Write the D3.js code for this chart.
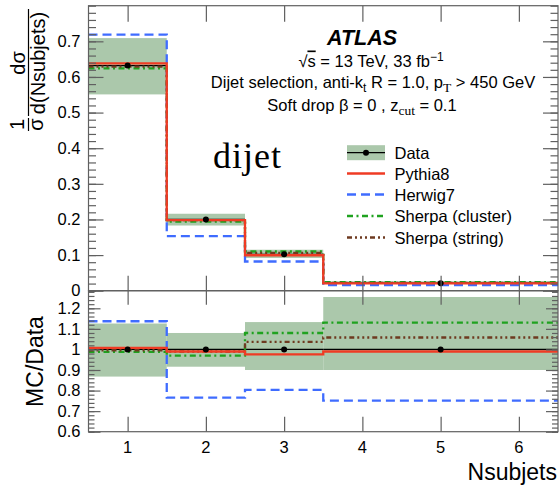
<!DOCTYPE html>
<html><head><meta charset="utf-8">
<script src="https://cdn.jsdelivr.net/npm/d3@7"></script>
<style>
body{margin:0;background:#fff}
svg{display:block}
</style>
</head><body>
<script>
// ---------- data ----------
const binLo = [0.5, 1.5, 2.5, 3.5];
const binHi = [1.5, 2.5, 3.5, 6.5];
const binCenter = [1, 2, 3, 5];

const dataVal   = [0.632, 0.200, 0.102, 0.021];
const dataBandLo = [0.551, 0.183, 0.092, 0.019];
const dataBandHi = [0.709, 0.216, 0.115, 0.0263];
const pythia8   = [0.638, 0.198, 0.0995, 0.0208];
const herwig7   = [0.719, 0.153, 0.082, 0.0158];
const sherpaCl  = [0.624, 0.194, 0.110, 0.0237];
const sherpaSt  = [0.629, 0.198, 0.106, 0.0222];

const ratioData   = [1, 1, 1, 1];
const ratioBandLo = [0.868, 0.916, 0.900, 0.900];
const ratioBandHi = [1.126, 1.080, 1.133, 1.255];
const ratioPythia = [1.008, 0.990, 0.976, 0.990];
const ratioHerwig = [1.137, 0.766, 0.803, 0.751];
const ratioSherpaCl = [0.988, 0.970, 1.080, 1.130];
const ratioSherpaSt = [0.996, 0.990, 1.037, 1.058];

const xTicks = [1, 2, 3, 4, 5, 6];
const yTopTicks = [0, 0.1, 0.2, 0.3, 0.4, 0.5, 0.6, 0.7];
const yTopLabels = ["0", "0.1", "0.2", "0.3", "0.4", "0.5", "0.6", "0.7"];
const yBotTicks = [0.6, 0.7, 0.8, 0.9, 1.0, 1.1, 1.2];
const yBotLabels = ["0.6", "0.7", "0.8", "0.9", "1", "1.1", "1.2"];
const legendLabels = ["Data", "Pythia8", "Herwig7", "Sherpa (cluster)", "Sherpa (string)"];

// ---------- styles ----------
const SANS = '"Liberation Sans",Arial,Helvetica,sans-serif';
const SERIF = '"Liberation Serif","Times New Roman",serif';
const C = {band:"#abc8ab", red:"#ef3b24", blue:"#3f6cff", green:"#1fa21f", brown:"#6e3a20", axis:"#606060"};
const series = [
  {name:"Herwig7", top:herwig7, rat:ratioHerwig, color:C.blue, dash:"9,5"},
  {name:"Sherpa (cluster)", top:sherpaCl, rat:ratioSherpaCl, color:C.green, dash:"6,3.5,2,3.5"},
  {name:"Sherpa (string)", top:sherpaSt, rat:ratioSherpaSt, color:C.brown, dash:"5,3,2,3,2,3,2,3"},
  {name:"Pythia8", top:pythia8, rat:ratioPythia, color:C.red, dash:null}
];

const W = 559, H = 487;
const L = 88.5, R = 558;
const topY0 = 290.7, topY1 = 5.7;
const botY0 = 431.7, botY1 = 290.7;

const svg = d3.select("body").append("svg").attr("width", W).attr("height", H)
  .attr("font-family", SANS);

const x = d3.scaleLinear().domain([0.5, 6.5]).range([L, R]);
const yT = d3.scaleLinear().domain([0, 0.8]).range([topY0, topY1]);
const yB = d3.scaleLinear().domain([0.6, 1.2]).range([botY0, 308.3]);

function stepPts(vals){
  const p = [];
  vals.forEach((v,i)=>{ p.push([binLo[i], v]); p.push([binHi[i], v]); });
  return p;
}

function drawPanel(g, y, band, dataY, key){
  g.selectAll("rect.band").data(binLo).enter().append("rect")
    .attr("x", (d,i)=>x(binLo[i])).attr("width",(d,i)=>x(binHi[i])-x(binLo[i]))
    .attr("y",(d,i)=>y(band[1][i])).attr("height",(d,i)=>y(band[0][i])-y(band[1][i]))
    .attr("fill", C.band);
  g.selectAll("line.dat").data(binLo).enter().append("line")
    .attr("x1",(d,i)=>x(binLo[i])).attr("x2",(d,i)=>x(binHi[i]))
    .attr("y1",(d,i)=>y(dataY[i])).attr("y2",(d,i)=>y(dataY[i]))
    .attr("stroke","#000").attr("stroke-width",1.3);
  series.forEach(s=>{
    const line = d3.line().x(d=>x(d[0])).y(d=>y(d[1]));
    g.append("path").attr("d", line(stepPts(s[key])))
      .attr("fill","none").attr("stroke", s.color).attr("stroke-width", 2.3)
      .attr("stroke-dasharray", s.dash);
  });
  g.selectAll("circle.dat").data(binCenter).enter().append("circle")
    .attr("cx",d=>x(d)).attr("cy",(d,i)=>y(dataY[i])).attr("r",3).attr("fill","#000");
}

svg.append("clipPath").attr("id","ct").append("rect").attr("x",L).attr("y",topY1).attr("width",R-L).attr("height",topY0-topY1);
svg.append("clipPath").attr("id","cb").append("rect").attr("x",L).attr("y",botY1).attr("width",R-L).attr("height",botY0-botY1);
const gTop = svg.append("g").attr("clip-path","url(#ct)");
const gBot = svg.append("g").attr("clip-path","url(#cb)");

drawPanel(gTop, yT, [dataBandLo, dataBandHi], dataVal, "top");
drawPanel(gBot, yB, [ratioBandLo, ratioBandHi], ratioData, "rat");

// ---------- axes ----------
function styleAxis(sel){
  sel.attr("font-family", SANS).attr("font-size", 16.5);
  sel.selectAll("line").attr("stroke", C.axis).attr("stroke-width",1.2);
  sel.selectAll("text").attr("fill","#000");
}
function minorRange(a,b,step){ const r=[]; for(let v=a; v<=b+1e-9; v+=step) r.push(+v.toFixed(3)); return r; }

const topMinor = minorRange(0, 0.8, 0.02);
const botMinor = minorRange(0.6, 1.28, 0.02);

function addAxis(tr, axis){
  svg.append("g").attr("transform", tr).call(axis).call(styleAxis).select("path.domain").remove();
}
addAxis(`translate(${L},0)`, d3.axisLeft(yT).tickValues(topMinor).tickSizeInner(-7.5).tickSizeOuter(0).tickFormat(""));
addAxis(`translate(${L},0)`, d3.axisLeft(yT).tickValues(yTopTicks).tickSizeInner(-15).tickSizeOuter(0).tickPadding(8).tickFormat((d,i)=>yTopLabels[i]));
addAxis(`translate(${R},0)`, d3.axisRight(yT).tickValues(topMinor).tickSizeInner(-7.5).tickSizeOuter(0).tickFormat(""));
addAxis(`translate(${R},0)`, d3.axisRight(yT).tickValues(yTopTicks).tickSizeInner(-15).tickSizeOuter(0).tickFormat(""));
addAxis(`translate(0,${topY0})`, d3.axisTop(x).tickValues(xTicks).tickSizeInner(15).tickSizeOuter(0).tickFormat(""));
addAxis(`translate(0,${topY1})`, d3.axisBottom(x).tickValues(xTicks).tickSizeInner(16).tickSizeOuter(0).tickFormat(""));
addAxis(`translate(${L},0)`, d3.axisLeft(yB).tickValues(botMinor).tickSizeInner(-6).tickSizeOuter(0).tickFormat(""));
addAxis(`translate(${L},0)`, d3.axisLeft(yB).tickValues(yBotTicks).tickSizeInner(-12).tickSizeOuter(0).tickPadding(8).tickFormat((d,i)=>yBotLabels[i]));
addAxis(`translate(${R},0)`, d3.axisRight(yB).tickValues(botMinor).tickSizeInner(-6).tickSizeOuter(0).tickFormat(""));
addAxis(`translate(${R},0)`, d3.axisRight(yB).tickValues(yBotTicks).tickSizeInner(-12).tickSizeOuter(0).tickFormat(""));
addAxis(`translate(0,${botY1})`, d3.axisBottom(x).tickValues(xTicks).tickSizeInner(14).tickSizeOuter(0).tickFormat(""));
addAxis(`translate(0,${botY0})`, d3.axisTop(x).tickValues(xTicks).tickSizeInner(15).tickSizeOuter(0).tickFormat(""));
svg.append("g").selectAll("text").data(xTicks).enter().append("text")
  .attr("x",d=>x(d)).attr("y",453).attr("text-anchor","middle").attr("font-size",16.5).text(d=>d);

svg.append("rect").attr("x",L).attr("y",topY1).attr("width",R-L).attr("height",topY0-topY1)
  .attr("fill","none").attr("stroke",C.axis).attr("stroke-width",1.2);
svg.append("rect").attr("x",L).attr("y",botY1).attr("width",R-L).attr("height",botY0-botY1)
  .attr("fill","none").attr("stroke",C.axis).attr("stroke-width",1.2);

// ---------- titles ----------
function rtext(txt, bx, cy, size){
  return svg.append("text").attr("x",bx).attr("y",cy)
    .attr("transform",`rotate(-90,${bx},${cy})`)
    .attr("text-anchor","middle").attr("font-size",size).text(txt);
}
rtext("dσ", 25, 63, 20);
rtext("d(Nsubjets)", 44.5, 63, 20);
svg.append("line").attr("x1",28.5).attr("x2",28.5).attr("y1",9).attr("y2",116).attr("stroke","#000").attr("stroke-width",1.2);
rtext("1", 24, 124.5, 20);
rtext("σ", 43, 124.5, 20);
svg.append("line").attr("x1",28.5).attr("x2",28.5).attr("y1",118).attr("y2",131).attr("stroke","#000").attr("stroke-width",1.2);
rtext("MC/Data", 43, 361.5, 23);
svg.append("text").attr("x",557).attr("y",480).attr("text-anchor","end").attr("font-size",23).text("Nsubjets");

// ---------- annotations ----------
svg.append("text").attr("x",362).attr("y",45).attr("text-anchor","middle")
  .attr("font-size",21.5).attr("font-weight","bold").attr("font-style","italic").text("ATLAS");

const t2 = svg.append("text").attr("x",371).attr("y",66.5).attr("text-anchor","middle").attr("font-size",16.5);
t2.append("tspan").text("√");
t2.append("tspan").attr("text-decoration","overline").text("s");
t2.append("tspan").text(" = 13 TeV, 33 fb");
t2.append("tspan").attr("dy",-6).attr("font-size",12).text("−1");

const t3 = svg.append("text").attr("x",373).attr("y",88).attr("text-anchor","middle").attr("font-size",16.5);
t3.append("tspan").text("Dijet selection, anti-k");
t3.append("tspan").attr("dy",4).attr("font-size",12).text("t");
t3.append("tspan").attr("dy",-4).text(" R = 1.0, p");
t3.append("tspan").attr("dy",4).attr("font-size",13.5).attr("font-family",SERIF).text("T");
t3.append("tspan").attr("dy",-4).text(" > 450 GeV");

const t4 = svg.append("text").attr("x",362).attr("y",111).attr("text-anchor","middle").attr("font-size",16.5);
t4.append("tspan").text("Soft drop β = 0 , z");
t4.append("tspan").attr("dy",4).attr("font-size",13.5).attr("font-family",SERIF).text("cut");
t4.append("tspan").attr("dy",-4).text(" = 0.1");

svg.append("text").attr("x",213).attr("y",168).attr("font-size",36)
  .attr("font-family",SERIF).attr("letter-spacing",1).text("dijet");

// ---------- legend ----------
const legY = [152.7, 173.5, 194.5, 216, 237.5];
const lx0 = 347, lx1 = 385;
const lg = svg.append("g");
lg.append("rect").attr("x",lx0).attr("y",legY[0]-7.5).attr("width",lx1-lx0).attr("height",15).attr("fill",C.band);
lg.append("line").attr("x1",lx0).attr("x2",lx1).attr("y1",legY[0]).attr("y2",legY[0]).attr("stroke","#000").attr("stroke-width",1.3);
lg.append("circle").attr("cx",(lx0+lx1)/2).attr("cy",legY[0]).attr("r",3).attr("fill","#000");
const legSeries = [series[3], series[0], series[1], series[2]];
legSeries.forEach((s,i)=>{
  lg.append("line").attr("x1",lx0).attr("x2",lx1).attr("y1",legY[i+1]).attr("y2",legY[i+1])
    .attr("stroke",s.color).attr("stroke-width",2.3).attr("stroke-dasharray",s.dash);
});
legendLabels.forEach((t,i)=>{
  lg.append("text").attr("x",394.5).attr("y",legY[i]+6).attr("font-size",16.5).text(t);
});
</script>
</body></html>
